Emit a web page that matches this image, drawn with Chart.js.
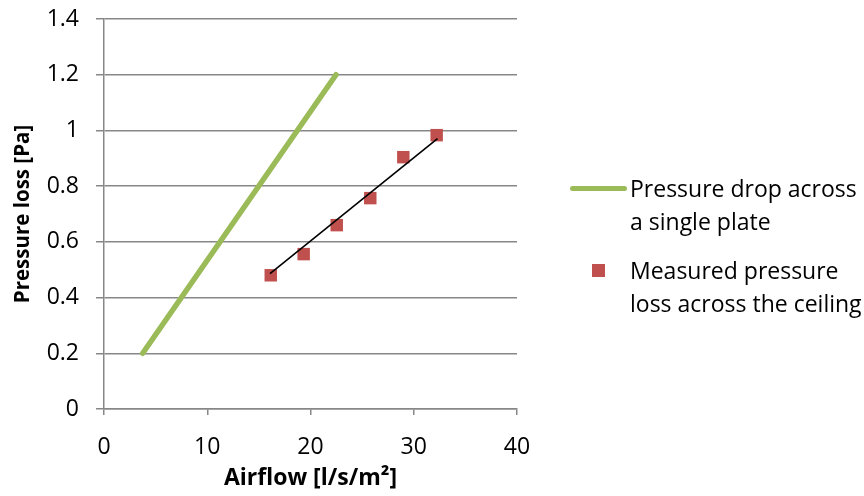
<!DOCTYPE html>
<html>
<head>
<meta charset="utf-8">
<script src="https://cdn.jsdelivr.net/npm/chart.js@4"></script>
<style>
  html, body { margin: 0; padding: 0; background: #fff; }
  #wrap { position: relative; width: 864px; height: 496px; }
  #chart { position: absolute; left: 0; top: 0; }
  .legend-text { position: absolute; font-family: "Open Sans", sans-serif; font-size: 23px; color: #000; line-height: 33px; white-space: nowrap; }
  .legend-line { position: absolute; background: #9BBB59; border-radius: 3px; }
  .legend-box { position: absolute; background: #C0504D; }
</style>
</head>
<body>
<div id="wrap">
  <canvas id="chart" width="864" height="496"></canvas>
  <div class="legend-line" style="left:570px; top:186px; width:57px; height:5px;"></div>
  <div class="legend-text" style="left:630px; top:172px;">Pressure drop across<br>a single plate</div>
  <div class="legend-box" style="left:592px; top:264px; width:13px; height:13px;"></div>
  <div class="legend-text" style="left:630px; top:254px;">Measured pressure<br>loss across the ceiling</div>
</div>
<script>
// Single plate pressure drop (line) and measured ceiling loss (squares + linear trend)
const plateAirflow = [3.75, 22.47];
const platePressure = [0.2, 1.2];

const measuredAirflow = [16.15, 19.34, 22.54, 25.79, 28.99, 32.22];
const measuredPressure = [0.480, 0.556, 0.660, 0.757, 0.904, 0.983];

const trendAirflow = [16.08, 32.3];
const trendPressure = [0.486, 0.971];

const xTicks = [0, 10, 20, 30, 40];
const yTicks = [0, 0.2, 0.4, 0.6, 0.8, 1, 1.2, 1.4];

const gridGray = "#878787";
const font = "'Open Sans', sans-serif";

const toPoints = (xs, ys) => xs.map((x, i) => ({ x, y: ys[i] }));

new Chart(document.getElementById("chart"), {
  type: "scatter",
  data: {
    datasets: [
      {
        label: "Trend",
        data: toPoints(trendAirflow, trendPressure),
        showLine: true,
        borderColor: "#000",
        borderWidth: 1.6,
        pointRadius: 0,
        order: 0,
      },
      {
        label: "Measured pressure loss across the ceiling",
        data: toPoints(measuredAirflow, measuredPressure),
        pointStyle: "rect",
        pointRadius: 8.8,
        backgroundColor: "#C0504D",
        borderColor: "#C0504D",
        borderWidth: 0,
        order: 1,
      },
      {
        label: "Pressure drop across a single plate",
        data: toPoints(plateAirflow, platePressure),
        showLine: true,
        borderColor: "#9BBB59",
        borderWidth: 5.5,
        borderCapStyle: "round",
        pointRadius: 0,
        order: 2,
      },
    ],
  },
  options: {
    responsive: false,
    animation: false,
    layout: { padding: { left: 0, right: 347, top: 19, bottom: 0 } },
    plugins: { legend: { display: false }, tooltip: { enabled: false } },
    scales: {
      x: {
        min: 0,
        max: 40,
        afterBuildTicks: (s) => { s.ticks = xTicks.map((v) => ({ value: v })); },
        afterFit: (s) => { s.height = 87; },
        grid: { color: "transparent", tickColor: gridGray, tickLength: 6, lineWidth: 1.5 },
        border: { color: gridGray, width: 1.5 },
        ticks: { color: "#000", font: { family: font, size: 23 }, padding: 19 },
        title: { display: true, text: "Airflow [l/s/m²]", color: "#000", font: { family: font, size: 23, weight: "bold" }, padding: { top: 0 } },
      },
      y: {
        min: 0,
        max: 1.4,
        afterBuildTicks: (s) => { s.ticks = yTicks.map((v) => ({ value: v })); },
        afterFit: (s) => { s.width = 104; s.paddingTop = 0; s.paddingBottom = 0; },
        grid: { color: gridGray, tickColor: gridGray, tickLength: 8, lineWidth: 1.5 },
        border: { color: gridGray, width: 1.5 },
        ticks: { color: "#000", font: { family: font, size: 23 }, padding: 17, callback: (v) => String(+v.toFixed(1)) },
        title: { display: true, text: "Pressure loss [Pa]", color: "#000", font: { family: font, size: 20.5, weight: "bold" }, padding: { top: 11 } },
      },
    },
  },
});
</script>
</body>
</html>
